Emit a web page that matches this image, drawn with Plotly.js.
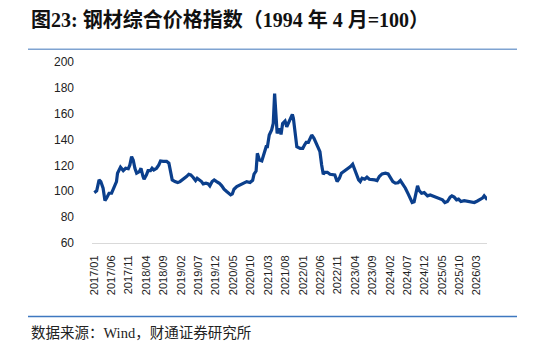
<!DOCTYPE html>
<html>
<head>
<meta charset="utf-8">
<script src="https://cdn.plot.ly/plotly-3.0.1.min.js"></script>
<style>html,body{margin:0;padding:0;background:#fff;}#chart{width:533px;height:347px;}</style>
</head>
<body>
<div id="chart"></div>
<script>
const dates = [
"2017-01-03","2017-01-24","2017-02-14","2017-03-01","2017-03-21","2017-04-06","2017-04-20","2017-05-12","2017-06-03","2017-06-25",
"2017-07-16","2017-07-25","2017-08-20","2017-09-13","2017-10-04","2017-10-27","2017-11-10","2017-11-25","2017-12-09","2017-12-24",
"2018-01-08","2018-02-01","2018-02-15","2018-03-05","2018-03-14","2018-04-04","2018-04-18","2018-05-09","2018-05-23","2018-06-07",
"2018-07-01","2018-07-21","2018-08-05","2018-08-28","2018-09-27","2018-10-17","2018-11-01","2018-11-15","2018-12-09","2019-01-02",
"2019-01-22","2019-02-20","2019-03-20","2019-04-09","2019-04-26","2019-05-16","2019-06-07","2019-06-21","2019-07-14","2019-07-29",
"2019-08-13","2019-09-06","2019-09-26","2019-10-10","2019-10-30","2019-11-17","2019-12-08","2020-01-01","2020-01-22","2020-02-11",
"2020-03-05","2020-03-25","2020-04-09","2020-04-23","2020-05-08","2020-06-01","2020-06-29","2020-07-28","2020-08-27","2020-09-25",
"2020-10-18","2020-10-30","2020-11-17","2020-11-28","2020-12-16","2021-01-06","2021-01-26","2021-02-13","2021-02-24","2021-03-12",
"2021-04-02","2021-04-16","2021-04-28","2021-05-09","2021-05-20","2021-06-08","2021-06-23","2021-07-07","2021-07-28","2021-08-12",
"2021-09-01","2021-09-16","2021-09-30","2021-10-09","2021-10-24","2021-11-08","2021-12-07","2021-12-30","2022-01-14","2022-01-29",
"2022-02-17","2022-03-03","2022-03-18","2022-04-07","2022-05-01","2022-05-14","2022-05-29","2022-06-13","2022-06-27","2022-07-12",
"2022-08-02","2022-08-25","2022-09-23","2022-10-06","2022-10-26","2022-11-15","2022-12-02","2022-12-23","2023-01-22","2023-02-20",
"2023-03-11","2023-03-28","2023-04-12","2023-05-02","2023-05-16","2023-06-01","2023-06-24","2023-07-14","2023-08-04","2023-08-27",
"2023-09-20","2023-10-10","2023-10-30","2023-11-23","2023-12-22","2024-01-15","2024-02-05","2024-02-25","2024-03-18","2024-04-11",
"2024-05-01","2024-05-22","2024-06-14","2024-07-08","2024-07-28","2024-08-12","2024-08-29","2024-09-14","2024-09-28","2024-10-12",
"2024-11-02","2024-11-25","2024-12-10","2024-12-24","2025-01-17","2025-02-07","2025-03-07","2025-04-05","2025-05-04","2025-05-25",
"2025-06-16","2025-07-10","2025-07-25","2025-08-14","2025-09-04","2025-09-21","2025-10-12","2025-11-10","2025-12-08","2026-01-08",
"2026-02-06","2026-03-05","2026-03-28","2026-04-18","2026-05-03","2026-05-17","2026-05-31"
];
const values = [
99.0,100.3,108.8,107.5,102.4,92.8,94.7,98.5,98.5,103.6,
107.5,114.0,118.6,116.0,117.8,117.4,120.4,126.8,124.2,117.8,
114.0,115.2,117.8,111.4,109.3,112.7,116.0,116.0,117.8,116.5,
117.8,120.4,123.5,123.2,123.2,121.7,115.2,108.8,107.5,106.7,
107.5,109.3,111.4,113.2,112.7,110.9,108.3,110.1,108.8,107.5,
105.7,106.2,105.7,104.2,107.5,108.8,107.5,106.2,104.2,101.6,
99.8,98.5,97.2,97.9,101.6,103.6,104.9,106.3,107.5,106.8,
108.5,113.2,115.7,129.4,124.2,123.5,130.6,134.5,134.5,143.5,
147.4,152.5,175.6,153.8,144.8,148.7,144.0,152.5,154.3,149.9,
153.8,157.6,159.5,156.4,142.2,134.5,133.2,133.2,135.8,137.9,
137.9,140.4,143.5,141.0,136.3,133.7,130.6,120.4,113.2,114.7,
114.7,113.2,113.2,112.7,107.5,110.1,114.0,115.2,117.1,119.1,
120.9,117.1,112.7,108.8,107.5,110.1,109.3,110.9,109.3,109.3,
108.8,108.3,111.4,113.4,114.0,113.4,110.9,107.5,106.3,106.6,
108.3,105.7,102.4,98.0,93.4,91.3,91.8,97.2,104.2,100.6,
98.5,99.0,97.8,96.5,97.2,96.5,95.5,94.7,93.4,91.3,
92.1,95.5,96.5,95.5,93.4,93.9,92.1,92.8,92.5,92.2,
91.3,92.5,93.9,94.7,96.5,94.7,93.4
];
const tickDates = ["2017-01-01","2017-06-01","2017-11-01","2018-04-01","2018-09-01","2019-02-01","2019-07-01","2019-12-01",
"2020-05-01","2020-10-01","2021-03-01","2021-08-01","2022-01-01","2022-06-01","2022-11-01","2023-04-01","2023-09-01",
"2024-02-01","2024-07-01","2024-12-01","2025-05-01","2025-10-01","2026-03-01"];
const tickLabels = ["2017/01","2017/06","2017/11","2018/04","2018/09","2019/02","2019/07","2019/12",
"2020/05","2020/10","2021/03","2021/08","2022/01","2022/06","2022/11","2023/04","2023/09",
"2024/02","2024/07","2024/12","2025/05","2025/10","2026/03"];

const trace = {
  x: dates, y: values, type: 'scatter', mode: 'lines',
  line: {color: '#0b3f8c', width: 3.2}, hoverinfo: 'skip', showlegend: false
};

const PW = 395, PH = 181.3;
const px = v => (v - 92) / PW;
const py = v => (243.3 - v) / PH;

const layout = {
  width: 533, height: 347,
  margin: {l: 92, r: 46, t: 62, b: 103.7},
  paper_bgcolor: '#fff', plot_bgcolor: '#fff',
  font: {family: 'Liberation Sans, Arial, sans-serif', color: '#222'},
  xaxis: {
    type: 'date', range: ['2016-12-14', '2026-05-28'],
    tickvals: tickDates, ticktext: tickLabels, tickangle: -90,
    tickfont: {size: 11, color: '#222'}, ticklabelstandoff: 7,
    showgrid: false, zeroline: false, showline: true, linecolor: '#d9d9d9', linewidth: 1,
    ticks: '', fixedrange: true
  },
  yaxis: {
    range: [60, 200], dtick: 20, tick0: 60,
    tickfont: {size: 12, color: '#222'}, ticklabelstandoff: 17,
    showgrid: false, zeroline: false, showline: false, ticks: '', ticklen: 0,
    fixedrange: true
  },
  shapes: [
    {type: 'line', xref: 'paper', yref: 'paper', x0: px(28), x1: px(517), y0: py(49.3), y1: py(49.3),
     line: {color: '#7fa3d1', width: 1.5}},
    {type: 'line', xref: 'paper', yref: 'paper', x0: px(28), x1: px(517), y0: py(317), y1: py(317),
     line: {color: '#3f78c0', width: 1.5}}
  ],
  annotations: [
    {xref: 'paper', yref: 'paper', x: px(29), y: py(20), xanchor: 'left', yanchor: 'middle', showarrow: false,
     text: '<b>图23: 钢材综合价格指数（1994 年 4 月=100）</b>',
     font: {family: 'Liberation Serif, "Noto Sans CJK SC", serif', size: 20, color: '#111'}},
    {xref: 'paper', yref: 'paper', x: px(29), y: py(333), xanchor: 'left', yanchor: 'middle', showarrow: false,
     text: '数据来源：Wind，财通证券研究所',
     font: {family: 'Liberation Serif, "Noto Sans CJK SC", serif', size: 14.5, color: '#222'}}
  ]
};

Plotly.newPlot('chart', [trace], layout, {displayModeBar: false, staticPlot: true});
</script>
</body>
</html>
